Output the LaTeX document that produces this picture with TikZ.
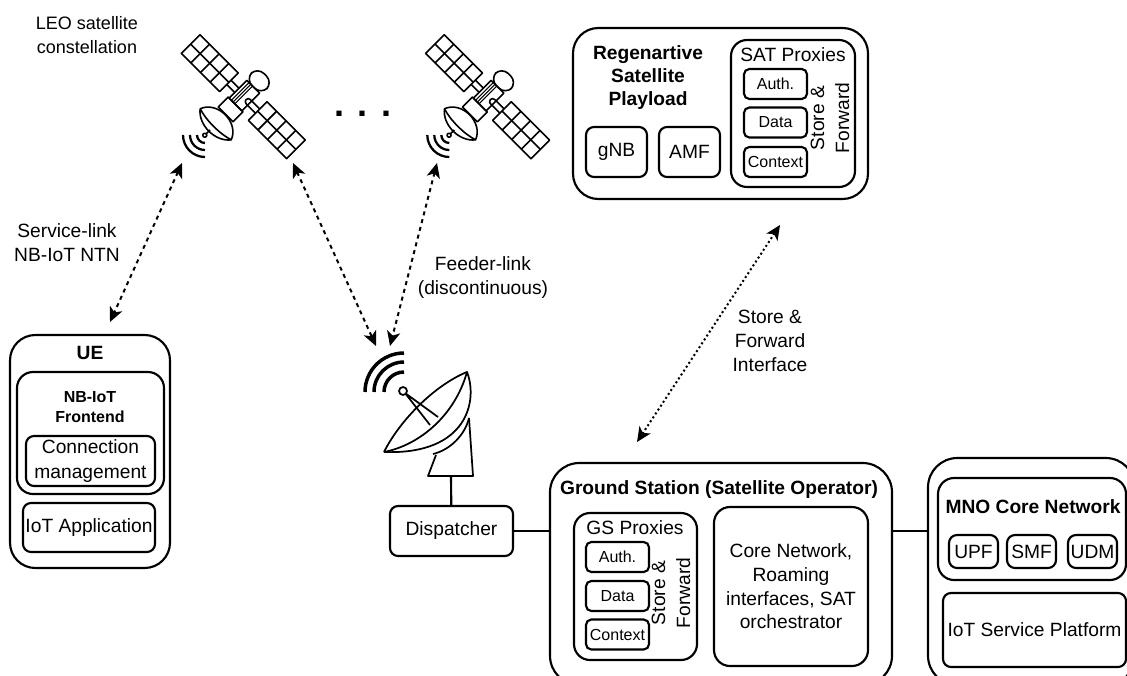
\documentclass[tikz,border=0pt]{standalone}
\usepackage{fontspec}
\usepackage{tikz}
\usetikzlibrary{arrows.meta}
\setmainfont{Liberation Sans}

\newcommand{\mainsize}{\fontsize{14.4}{17.5}\selectfont}
\newcommand{\smallsize}{\fontsize{12}{15}\selectfont}

\tikzset{
    sized/.style 2 args={minimum width=#1*0.75pt, minimum height=#2*0.75pt},
    box/.style={draw, line width=1.6pt, inner sep=0pt, align=center, font=\mainsize},
    outerbox/.style={box, rounded corners=19pt},
    midbox/.style={box, rounded corners=12pt},
    funcbox/.style={box, rounded corners=6pt},
    tinybox/.style={box, rounded corners=4pt, font=\smallsize, sized={63}{30}},
    title/.style={inner sep=0pt, align=center, font=\mainsize\bfseries},
    label/.style={inner sep=0pt, align=center, font=\mainsize},
    link/.style={line width=1.5pt, dashed, {Stealth[length=11pt,width=10pt,inset=3pt]}-{Stealth[length=11pt,width=10pt,inset=3pt]}},
    wire/.style={line width=1.6pt},
    wave/.style={line width=1.7pt},
    icon/.style={line width=1.2pt, line join=round},
    pics/satellite/.style={code={
        \begin{scope}[rotate=-45, icon]
            % panels
            \foreach \u in {-74.5,20.3} {
                \draw (\u,-13.2) rectangle ++(54.2,26.4);
                \draw (\u,0) -- ++(54.2,0);
                \foreach \k in {1,2,3} {
                    \draw (\u+13.55*\k,-13.2) -- ++(0,26.4);
                }
            }
            % struts
            \draw (-20.3,-3) -- (-9,-3) (-20.3,3) -- (-9,3);
            \draw (20.3,-3) -- (7,-3) arc[start angle=270, end angle=90, radius=3] -- (20.3,3);
            % body
            \draw[rounded corners=7] (-11,-14) -- (-11,-31) -- (11,-31) -- (11,-14) -- cycle;
            \draw (-9,-14) rectangle (9,11);
            \foreach \u in {-6,-3.5,-1} {
                \draw[line width=0.8pt] (\u,-14) -- (\u,11);
            }
            \draw (-10.5,11) rectangle (10.5,25);
            % dish
            \draw[fill=white] (-22,39) .. controls (-15,21) and (15,21) .. (22,39)
                .. controls (12,52) and (-12,52) .. (-22,39);
            \draw (-22,39) .. controls (-10,43) and (10,43) .. (22,39);
            \draw (0,47) -- (0,53);
            \draw[fill=white] (0,54.5) circle (2);
        \end{scope}
        \foreach \r in {8,15,22} {
            \draw[wave] (-38.3,38.3+\r) arc[start angle=90, end angle=180, radius=\r];
        }
    }},
}

\begin{document}
\begin{tikzpicture}[x=0.75pt, y=-0.75pt]
    \useasboundingbox (0,0) rectangle (1127,675);
    \clip (0,0) rectangle (1127,675);

    % satellites
    \pic (sata) at (243.3,96.7) {satellite};
    \pic (satb) at (487.6,96.7) {satellite};
    \node[anchor=base, inner sep=0pt, font=\fontsize{27}{27}\selectfont\bfseries] (dots) at (363,116.5) {. . .};
    \node[label, font=\fontsize{13.5}{18}\selectfont] (leo) at (87,35) {LEO satellite\\constellation};

    % payload
    \node[outerbox, sized={295}{171}] (payload) at (720.5,113.5) {};
    \node[title] (payloadtitle) at (648,77.5) {Regenartive\\Satellite\\Playload};
    \node[funcbox, sized={61}{50}] (gnb) at (616.5,152) {gNB};
    \node[funcbox, sized={61}{50}] (amf) at (689.5,152) {AMF};
    \node[midbox, sized={124}{147}] (satproxies) at (793,113.5) {};
    \node[label] (satproxiestitle) at (793,55) {SAT Proxies};
    \node[tinybox] (satauth) at (775.5,84) {Auth.};
    \node[tinybox] (satdata) at (775.5,122.5) {Data};
    \node[tinybox] (satcontext) at (775.5,162) {Context};
    \node[label, rotate=90] (satstore) at (830,118) {Store \&\\[1.2pt]Forward};

    % ue
    \node[outerbox, sized={160}{233}] (ue) at (90,451.5) {};
    \node[title] (uetitle) at (90,353) {UE};
    \node[midbox, sized={147}{122}] (frontend) at (90.5,433) {};
    \node[title, font=\smallsize\bfseries] (frontendtitle) at (90,407) {NB-IoT\\[0.5pt]Frontend};
    \node[funcbox, sized={129}{50}] (connection) at (90.5,461) {Connection\\[1pt]management};
    \node[funcbox, sized={132}{49}] (iotapp) at (89,527.5) {IoT Application};
    \node[label] (servicelabel) at (67,243) {Service-link\\[0.5pt]NB-IoT NTN};

    % ground station
    \node[funcbox, sized={123}{50}] (dispatcher) at (451.5,531) {Dispatcher};
    \node[box, rounded corners=22pt, sized={342}{222}] (gs) at (721,574) {};
    \node[title] (gstitle) at (719,490) {Ground Station (Satellite Operator)};
    \node[midbox, sized={123}{147}] (gsproxies) at (635.5,586.5) {};
    \node[label] (gsproxiestitle) at (635,528) {GS Proxies};
    \node[tinybox] (gsauth) at (617.5,557) {Auth.};
    \node[tinybox] (gsdata) at (617.5,596) {Data};
    \node[tinybox] (gscontext) at (617.5,634.5) {Context};
    \node[label, rotate=90] (gsstore) at (671,593) {Store \&\\[1.2pt]Forward};
    \node[midbox, sized={154}{159}] (core) at (791,586.5) {Core Network,\\[0.3pt]Roaming\\[0.3pt]interfaces, SAT\\[0.3pt]orchestrator};

    % mno
    \node[box, rounded corners=22pt, sized={207}{227}] (mno) at (1031.5,571.5) {};
    \node[midbox, sized={188}{102}] (mnocore) at (1032,529) {};
    \node[title] (mnotitle) at (1033,507) {MNO Core Network};
    \node[funcbox, sized={49}{33}] (upf) at (973.5,551.5) {UPF};
    \node[funcbox, sized={49}{33}] (smf) at (1031.5,551.5) {SMF};
    \node[funcbox, sized={49}{33}] (udm) at (1092.5,551.5) {UDM};
    \node[funcbox, sized={183}{74}] (iotplatform) at (1034.5,630) {IoT Service Platform};

    % dish
    \begin{scope}[line width=1.3pt, line join=round]
        \draw (436,455) -- (428,476) -- (473,476) -- (469,418);
        \draw (384,452) .. controls (400,420) and (435,385) .. (467,372)
            .. controls (478,400) and (468,455) .. (384,452);
        \draw (384,452) .. controls (420,445) and (455,415) .. (467,372);
        \draw (433,454) .. controls (450,450) and (465,435) .. (469,418);
        \draw (405,393) -- (430,425) (405,393) -- (438,417);
        \draw[fill=white] (403,391) circle (4);
    \end{scope}
    \foreach \r in {20,30,39} {
        \draw[wave, line width=2.6pt] (404,392-\r) arc[start angle=270, end angle=180, radius=\r];
    }

    % links
    \coordinate (dishfoot) at (451,476);
    \coordinate (satatip) at (182,163);
    \coordinate (satbtip) at (293,163);
    \coordinate (satctip) at (437,163);
    \coordinate (uetip) at (110,322);
    \coordinate (dishtipa) at (376,346);
    \coordinate (dishtipb) at (390,346);
    \coordinate (payloadtip) at (780,225);
    \coordinate (gstip) at (637,442);
    \draw[link] (satatip) -- (uetip);
    \draw[link] (satbtip) -- (dishtipa);
    \draw[link] (satctip) -- (dishtipb);
    \draw[link, dotted] (payloadtip) -- (gstip);
    \draw[wire] (dishfoot) -- (dispatcher);
    \draw[wire] (dispatcher.east) -- (dispatcher.east -| gs.west);
    \draw[wire] (gs.east |- dispatcher.east) -- (mno.west |- dispatcher.east);

    \node[label] (feederlabel) at (483,278) {Feeder-link\\[0.5pt](discontinuous)};
    \node[label] (storelabel) at (770,341) {Store \&\\[0.5pt]Forward\\[0.5pt]Interface};
\end{tikzpicture}
\end{document}
